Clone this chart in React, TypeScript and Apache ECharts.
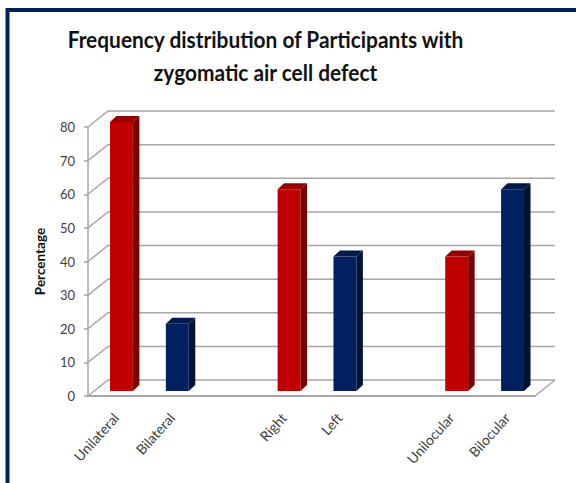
import React, { useEffect, useRef } from "react";
import * as echarts from "echarts";

const categories = ["Unilateral", "Bilateral", "", "Right", "Left", "", "Unilocular", "Bilocular"];
const redValues: [number, number][] = [[0, 80], [3, 60], [6, 40]];
const blueValues: [number, number][] = [[1, 20], [4, 40], [7, 60]];
const yTicks = [0, 10, 20, 30, 40, 50, 60, 70, 80];
const titleText = "Frequency distribution of Participants with\nzygomatic air cell defect";
const yName = "Percentage";

const GRID_LINE = "#a6a6a6";
const WALL_DX = 20;
const WALL_DY = -16;

function barRenderer(front: string, side: string, top: string) {
  return (_params: any, api: any) => {
    const cat = api.value(0);
    const val = api.value(1);
    const [cx, yTop] = api.coord([cat, val]);
    const [, yBase] = api.coord([cat, 0]);
    const w = api.size([1, 0])[0] * 0.41;
    const x0 = cx + 5.5 - w / 2;
    const x1 = x0 + w;
    const y0 = yTop - 5;
    const y1 = yBase - 5;
    const dx = 6.5;
    const dy = -6;
    return {
      type: "group",
      children: [
        { type: "polygon", shape: { points: [[x1, y0], [x1 + dx, y0 + dy], [x1 + dx, y1 + dy], [x1, y1]] }, style: { fill: side } },
        { type: "polygon", shape: { points: [[x0, y0], [x0 + dx, y0 + dy], [x1 + dx, y0 + dy], [x1, y0]] }, style: { fill: top } },
        { type: "rect", shape: { x: x0, y: y0, width: w, height: y1 - y0 }, style: { fill: front } },
      ],
    };
  };
}

function wallRenderer(params: any, api: any) {
  const v = api.value(0);
  const [, y] = api.coord([0, v]);
  const left = params.coordSys.x;
  const right = left + params.coordSys.width;
  const children: any[] = [
    {
      type: "polyline",
      shape: { points: [[left, y], [left + WALL_DX, y + WALL_DY], [right + WALL_DX, y + WALL_DY]] },
      style: { stroke: GRID_LINE, lineWidth: 1.5, fill: "none" },
    },
  ];
  if (v === 0) {
    children.push({
      type: "line",
      shape: { x1: right, y1: y, x2: right + WALL_DX, y2: y + WALL_DY },
      style: { stroke: GRID_LINE, lineWidth: 1.5 },
    });
  }
  return { type: "group", children };
}

export default function App() {
  const ref = useRef<HTMLDivElement>(null);
  useEffect(() => {
    document.body.style.margin = "0";
    const chart = echarts.init(ref.current!, null, { renderer: "svg" });
    chart.setOption({
      animation: false,
      backgroundColor: "#ffffff",
      textStyle: { fontFamily: "Lato" },
      grid: { left: 88, right: 41, top: 127, bottom: 87 },
      xAxis: {
        type: "category",
        data: categories,
        axisTick: { show: false },
        axisLine: { lineStyle: { color: GRID_LINE, width: 2 } },
        axisLabel: { interval: 0, rotate: 48, margin: 19, fontFamily: "Lato", fontSize: 14, color: "#404040" },
      },
      yAxis: {
        type: "value",
        min: 0,
        max: 80,
        interval: 10,
        name: yName,
        nameLocation: "middle",
        nameGap: 41,
        nameTextStyle: { fontFamily: "Lato", fontSize: 13.5, fontWeight: "bold", color: "#111111" },
        splitLine: { show: false },
        axisLine: { show: true, lineStyle: { color: GRID_LINE, width: 1.5 } },
        axisTick: { show: true, length: 4, lineStyle: { color: GRID_LINE, width: 1.5 } },
        axisLabel: { margin: 13, fontFamily: "Lato", fontSize: 13, color: "#404040" },
      },
      graphic: [
        {
          type: "polyline",
          silent: true,
          shape: { points: [[7.5, 483], [7.5, 10], [576, 10]] },
          style: { stroke: "#002060", lineWidth: 4, fill: "none" },
        },
        {
          type: "text",
          silent: true,
          x: 265.5,
          y: 56,
          scaleX: 0.908,
          style: {
            text: titleText,
            fontFamily: "Lato",
            fontSize: 23,
            fontWeight: "bold",
            fill: "#111111",
            lineHeight: 33,
            align: "center",
            verticalAlign: "middle",
          },
        },
      ],
      series: [
        { type: "custom", name: "Walls", renderItem: wallRenderer, data: yTicks.map((v) => [v]), encode: { y: 0 }, silent: true, z: 1 },
        { type: "custom", name: "Red", renderItem: barRenderer("#c00000", "#7a0000", "#960000"), data: redValues, encode: { x: 0, y: 1 }, z: 3 },
        { type: "custom", name: "Blue", renderItem: barRenderer("#002060", "#001236", "#001a4e"), data: blueValues, encode: { x: 0, y: 1 }, z: 3 },
      ],
    });
    return () => chart.dispose();
  }, []);
  return <div ref={ref} style={{ width: 576, height: 483 }} />;
}
